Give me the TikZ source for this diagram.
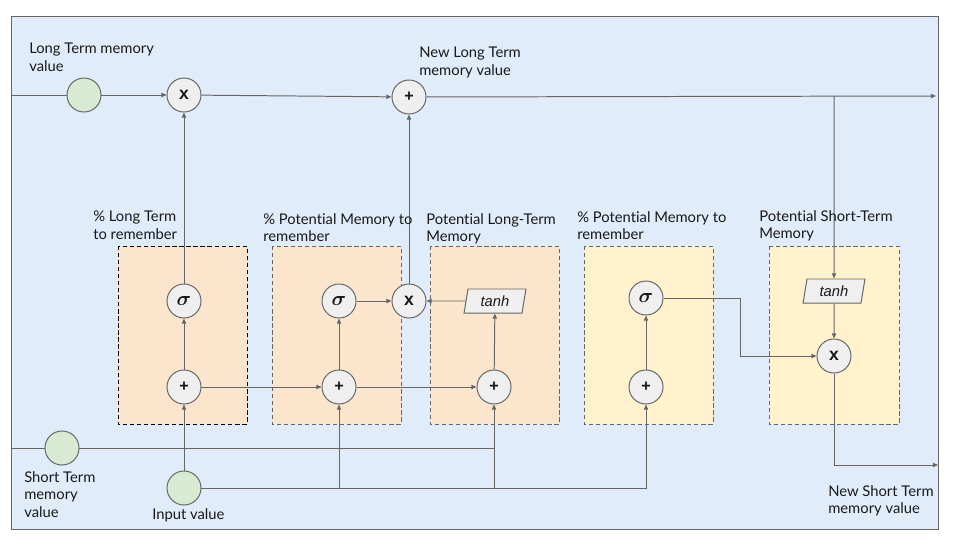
\documentclass[tikz,border=0pt]{standalone}
\usepackage{amsmath}
\usepackage{fontspec}
\setmainfont{Lato}[Ligatures=NoCommon]
\newfontfamily\arialfont{Liberation Sans}
\usetikzlibrary{arrows.meta,shapes.geometric}
\definecolor{bgblue}{HTML}{E0ECFA}
\definecolor{boxorange}{HTML}{FCE5CD}
\definecolor{boxyellow}{HTML}{FFF2CC}
\definecolor{memgreen}{HTML}{D9EAD3}
\definecolor{opgray}{HTML}{EFEFEF}
\definecolor{linegray}{HTML}{666666}
\newcommand{\opsig}{\fontsize{15}{15}\selectfont$\boldsymbol{\sigma}$}
\newcommand{\opadd}{\arialfont\bfseries\fontsize{11.5}{11.5}\selectfont +}
\newcommand{\opmul}{\arialfont\bfseries\fontsize{12.5}{12.5}\selectfont x}
\begin{document}
\begin{tikzpicture}[x=0.025cm, y=-0.025cm,
    every node/.style={font=\fontsize{10.5}{12.5}\selectfont, text=black!90},
    line/.style={draw=linegray, line width=0.7pt},
    arr/.style={line, -{Triangle[length=3.6pt, width=3pt]}},
    op/.style={circle, draw=linegray, line width=0.7pt, fill=opgray, minimum size=0.85cm, inner sep=0pt},
    mem/.style={circle, draw=linegray, line width=0.7pt, fill=memgreen, minimum size=0.85cm, inner sep=0pt},
    fn/.style={trapezium, trapezium left angle=79, trapezium right angle=101, trapezium stretches=true,
        draw=linegray, line width=0.7pt, fill=opgray, minimum width=1.55cm, minimum height=0.6cm,
        inner sep=0pt, font=\arialfont\itshape\fontsize{10.5}{12}\selectfont},
    gate/.style={draw=linegray, line width=0.7pt, dash pattern=on 3pt off 2pt},
    lbl/.style={anchor=north west, align=left, inner sep=0pt}]
    \useasboundingbox (0,0) rectangle (960,540);
    \draw[draw=linegray, line width=0.7pt, fill=bgblue] (11,16) rectangle (938,529);

    \draw[gate, draw=black, fill=boxorange] (118,246) rectangle (247,424);
    \draw[gate, fill=boxorange] (272,246) rectangle (401,424);
    \draw[gate, fill=boxorange] (430,246) rectangle (559,424);
    \draw[gate, fill=boxyellow] (584,246) rectangle (713,424);
    \draw[gate, fill=boxyellow] (769,246) rectangle (899,424);

    \node[mem] (ltmem) at (84,95) {};
    \node[mem] (stmem) at (62,448) {};
    \node[mem] (inval) at (184,488) {};
    \node[op] (mulf) at (184,95) {\opmul};
    \node[op] (addlt) at (409,97) {\opadd};
    \node[op] (sigf) at (184,301) {\opsig};
    \node[op] (addf) at (184,387) {\opadd};
    \node[op] (sigi) at (339,301) {\opsig};
    \node[op] (addi) at (339,387) {\opadd};
    \node[op] (muli) at (409,301) {\opmul};
    \node[fn] (tanhc) at (495,301) {tanh};
    \node[op] (addc) at (494,387) {\opadd};
    \node[op] (sigo) at (646,298) {\opsig};
    \node[op] (addo) at (646,387) {\opadd};
    \node[fn] (tanho) at (834,291) {tanh};
    \node[op] (mulo) at (834,356) {\opmul};

    \coordinate (ltin) at (11,95);
    \coordinate (ltout) at (936,96);
    \coordinate (stin) at (11,448);
    \coordinate (stout) at (938,465);

    \draw[line] (ltin) -- (ltmem);
    \draw[arr] (ltmem) -- (mulf);
    \draw[arr] (mulf) -- (addlt);
    \draw[arr] (addlt) -- (ltout);
    \draw[arr] (tanho |- ltout) -- (tanho);
    \draw[arr] (sigf) -- (mulf);
    \draw[arr] (addf) -- (sigf);
    \draw[arr] (inval) -- (addf);
    \draw[arr] (addf) -- (addi);
    \draw[arr] (addi) -- (sigi);
    \draw[arr] (sigi) -- (muli);
    \draw[arr] (tanhc) -- (muli);
    \draw[arr] (muli) -- (addlt);
    \draw[arr] (addi) -- (addc);
    \draw[arr] (addc) -- (tanhc);
    \draw[arr] (addo) -- (sigo);
    \draw[arr] (sigo) -- ++(94,0) |- (mulo);
    \draw[arr] (tanho) -- (mulo);
    \draw[arr] (mulo) -- (mulo |- stout) -- (stout);
    \draw[line] (stin) -- (stmem);
    \draw[line] (stmem) -- (addc |- stmem);
    \draw[arr] (inval) -- (addo |- inval) -- (addo);
    \draw[arr] (addi |- inval) -- (addi);
    \draw[arr] (addc |- inval) -- (addc);

    \node[lbl] (ltlbl) at (29,43) {Long Term memory\\value};
    \node[lbl] (newltlbl) at (419,47) {New Long Term\\memory value};
    \node[lbl] (flbl) at (93,211) {\% Long Term\\to remember};
    \node[lbl] (ilbl) at (263,213) {\% Potential Memory to\\remember};
    \node[lbl] (clbl) at (426,213) {Potential Long-Term\\Memory};
    \node[lbl] (olbl) at (577,211) {\% Potential Memory to\\remember};
    \node[lbl] (slbl) at (759,210) {Potential Short-Term\\Memory};
    \node[lbl] (stlbl) at (24,471) {Short Term\\memory\\value};
    \node[lbl] (inlbl) at (152,508) {Input value};
    \node[lbl] (newstlbl) at (828,485) {New Short Term\\memory value};
\end{tikzpicture}
\end{document}
